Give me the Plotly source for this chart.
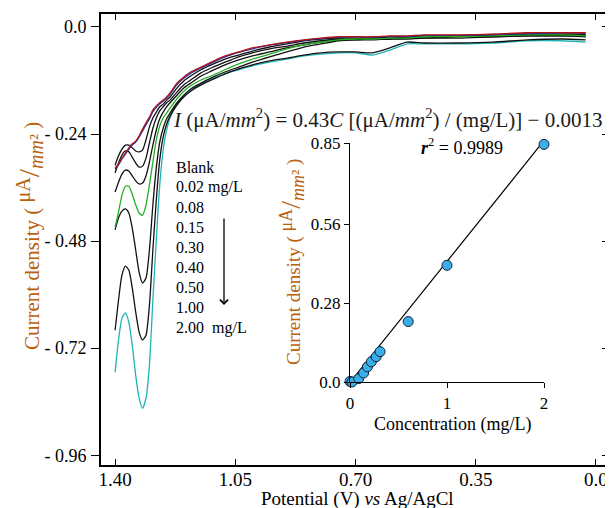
import plotly.graph_objects as go

# ---------------- data ----------------
potential = [1.40, 1.39, 1.38, 1.37, 1.36, 1.35, 1.34, 1.33, 1.32, 1.31, 1.30, 1.29, 1.28, 1.27,
             1.26, 1.25, 1.24, 1.22, 1.20, 1.18, 1.15, 1.12, 1.08, 1.04, 1.00, 0.95, 0.90, 0.85,
             0.80, 0.75, 0.70, 0.65, 0.60, 0.55, 0.50, 0.40, 0.30, 0.20, 0.10, 0.03]

blank = [-0.316, -0.307, -0.294, -0.283, -0.271, -0.262, -0.256, -0.244, -0.229, -0.215, -0.202,
         -0.186, -0.177, -0.170, -0.164, -0.157, -0.148, -0.126, -0.112, -0.101, -0.090, -0.079,
         -0.065, -0.056, -0.047, -0.040, -0.034, -0.029, -0.025, -0.022, -0.022, -0.022, -0.020,
         -0.020, -0.018, -0.018, -0.016, -0.013, -0.013, -0.013]
c002 = [-0.319, -0.309, -0.296, -0.285, -0.274, -0.265, -0.258, -0.247, -0.233, -0.219, -0.206,
        -0.190, -0.180, -0.172, -0.166, -0.159, -0.151, -0.129, -0.115, -0.104, -0.092, -0.081,
        -0.067, -0.057, -0.049, -0.041, -0.035, -0.030, -0.026, -0.023, -0.023, -0.023, -0.021,
        -0.021, -0.019, -0.019, -0.017, -0.015, -0.014, -0.014]
c008 = [-0.310, -0.289, -0.274, -0.265, -0.265, -0.271, -0.278, -0.280, -0.276, -0.253, -0.224,
        -0.204, -0.191, -0.179, -0.173, -0.164, -0.157, -0.137, -0.121, -0.110, -0.096, -0.085,
        -0.072, -0.063, -0.054, -0.045, -0.038, -0.031, -0.027, -0.025, -0.025, -0.025, -0.022,
        -0.022, -0.020, -0.020, -0.018, -0.016, -0.016, -0.016]
c015 = [-0.327, -0.305, -0.287, -0.278, -0.280, -0.292, -0.305, -0.314, -0.312, -0.294, -0.260,
        -0.227, -0.204, -0.188, -0.179, -0.170, -0.164, -0.146, -0.130, -0.119, -0.103, -0.092,
        -0.079, -0.067, -0.058, -0.049, -0.043, -0.036, -0.031, -0.027, -0.027, -0.025, -0.025,
        -0.022, -0.022, -0.020, -0.020, -0.018, -0.018, -0.018]
c030 = [-0.370, -0.348, -0.330, -0.321, -0.323, -0.334, -0.345, -0.352, -0.350, -0.334, -0.303,
        -0.265, -0.231, -0.206, -0.191, -0.179, -0.170, -0.153, -0.137, -0.126, -0.110, -0.099,
        -0.085, -0.074, -0.065, -0.056, -0.047, -0.040, -0.034, -0.029, -0.029, -0.027, -0.027,
        -0.025, -0.025, -0.022, -0.022, -0.020, -0.020, -0.020]
c040 = [-0.449, -0.415, -0.377, -0.357, -0.357, -0.375, -0.399, -0.417, -0.422, -0.399, -0.354,
        -0.303, -0.253, -0.222, -0.204, -0.193, -0.182, -0.161, -0.144, -0.132, -0.119, -0.110,
        -0.096, -0.083, -0.072, -0.061, -0.049, -0.040, -0.034, -0.029, -0.027, -0.027, -0.025,
        -0.025, -0.022, -0.022, -0.020, -0.018, -0.018, -0.020]
c050 = [-0.455, -0.428, -0.413, -0.408, -0.417, -0.451, -0.500, -0.550, -0.574, -0.563, -0.500,
        -0.399, -0.316, -0.258, -0.227, -0.206, -0.193, -0.170, -0.153, -0.139, -0.126, -0.114,
        -0.101, -0.090, -0.079, -0.067, -0.056, -0.045, -0.038, -0.031, -0.029, -0.029, -0.027,
        -0.027, -0.025, -0.025, -0.022, -0.020, -0.020, -0.022]
c100 = [-0.680, -0.612, -0.556, -0.536, -0.545, -0.585, -0.639, -0.684, -0.702, -0.691, -0.624,
        -0.500, -0.388, -0.298, -0.247, -0.218, -0.200, -0.175, -0.157, -0.144, -0.130, -0.119,
        -0.105, -0.094, -0.085, -0.076, -0.070, -0.063, -0.058, -0.056, -0.056, -0.058, -0.047,
        -0.034, -0.036, -0.036, -0.034, -0.029, -0.027, -0.029]
c200 = [-0.774, -0.702, -0.653, -0.641, -0.662, -0.713, -0.781, -0.832, -0.855, -0.832, -0.758,
        -0.612, -0.478, -0.354, -0.276, -0.231, -0.204, -0.173, -0.155, -0.141, -0.128, -0.117,
        -0.105, -0.096, -0.087, -0.079, -0.072, -0.065, -0.061, -0.058, -0.058, -0.063, -0.052,
        -0.038, -0.038, -0.038, -0.036, -0.031, -0.031, -0.034]

series_names = ["2.00", "1.00", "0.50", "0.30", "0.15", "0.08", "0.40", "0.02", "Blank"]
series_values = [c200, c100, c050, c030, c015, c008, c040, c002, blank]
series_colors = ["#1fb5b8", "#111111", "#111111", "#111111", "#111111", "#111111",
                 "#22b022", "#1c2fa8", "#b01515"]

legend_labels = ["Blank", "0.02 mg/L", "0.08", "0.15", "0.30", "0.40", "0.50", "1.00", "2.00  mg/L"]

x_ticks = [1.40, 1.05, 0.70, 0.35, 0.0]
x_ticktext = ["1.40", "1.05", "0.70", "0.35", "0.0"]
y_ticks = [0.0, -0.24, -0.48, -0.72, -0.96]
y_ticktext = ["0.0", "- 0.24", "- 0.48", "- 0.72", "- 0.96"]

# calibration inset
conc = [0.0, 0.02, 0.09, 0.14, 0.18, 0.22, 0.27, 0.31, 0.60, 1.00, 2.00]
current = [0.002, 0.0, 0.012, 0.032, 0.054, 0.072, 0.090, 0.108, 0.215, 0.415, 0.845]
slope = 0.43
intercept = -0.0013
inset_x_ticks = [0, 1, 2]
inset_y_ticks = [0.0, 0.28, 0.56, 0.85]
inset_y_ticktext = ["0.0", "0.28", "0.56", "0.85"]

# ---------------- layout helpers (window pixel coords) ----------------
OFF = 8                      # page body margin
W, H = 605, 500              # figure size so that it fits the 613x508 window
PL, PR, PT, PB = 101, 608, 14, 465   # plot frame in window pixels
L, T = PL - OFF, PT - OFF
R = W - (PR - OFF)
B = H - (PB - OFF)
PW, PH = PR - PL, PB - PT


def px(x):
    return (x - PL) / PW


def py(y):
    return (PB - y) / PH


FONT = "Liberation Serif, Times New Roman, serif"
ORANGE = "#b8600c"

fig = go.Figure()

for name, vals, col in zip(series_names, series_values, series_colors):
    fig.add_trace(go.Scatter(x=potential, y=vals, mode="lines", name=name,
                             line=dict(color=col, width=1.3, shape="spline", smoothing=0.6),
                             showlegend=False, xaxis="x", yaxis="y"))

# inset fit line and points
xfit = [min(conc), max(conc)]
yfit = [slope * v + intercept for v in xfit]
fig.add_trace(go.Scatter(x=xfit, y=yfit, mode="lines", line=dict(color="black", width=1.2),
                         showlegend=False, xaxis="x2", yaxis="y2", cliponaxis=False))
fig.add_trace(go.Scatter(x=conc, y=current, mode="markers",
                         marker=dict(size=10, color="#3aaee8", line=dict(color="#123", width=1)),
                         showlegend=False, xaxis="x2", yaxis="y2", cliponaxis=False))
# dummy trace so the right-side tick axis is drawn
fig.add_trace(go.Scatter(x=[None], y=[None], xaxis="x", yaxis="y3", showlegend=False))

fig.update_layout(
    width=W, height=H,
    margin=dict(l=L, r=R, t=T, b=B, autoexpand=False),
    paper_bgcolor="white", plot_bgcolor="white",
    font=dict(family=FONT, size=19, color="black"),
    xaxis=dict(range=[1.441, -0.035], tickvals=x_ticks, ticktext=x_ticktext,
               ticks="inside", ticklen=6, tickwidth=1.3, tickcolor="black",
               showline=True, linecolor="black", linewidth=1.6, mirror="ticks",
               showgrid=False, zeroline=False, tickfont=dict(size=19),
               ticklabelstandoff=-4),
    yaxis=dict(range=[-0.982, 0.029], tickvals=y_ticks, ticktext=y_ticktext,
               ticks="outside", ticklen=8, tickwidth=1.3, tickcolor="black",
               showline=True, linecolor="black", linewidth=1.6, mirror=True,
               showgrid=False, zeroline=False, tickfont=dict(size=18),
               ticklabelstandoff=1),
    yaxis3=dict(range=[-0.982, 0.029], tickvals=y_ticks, overlaying="y", side="right",
                anchor="x", ticks="inside", ticklen=6, tickwidth=1.3, tickcolor="black",
                showticklabels=False, showgrid=False, zeroline=False, showline=False),
    xaxis2=dict(domain=[px(350), px(544)], range=[0, 2], anchor="y2",
                tickvals=inset_x_ticks, ticks="outside", ticklen=5, tickcolor="black",
                showline=True, linecolor="black", linewidth=1.2, showgrid=False,
                zeroline=False, tickfont=dict(size=17)),
    yaxis2=dict(domain=[py(382), py(143)], range=[0, 0.85], anchor="x2",
                tickvals=inset_y_ticks, ticktext=inset_y_ticktext,
                ticks="outside", ticklen=5, tickcolor="black",
                showline=True, linecolor="black", linewidth=1.2, showgrid=False,
                zeroline=False, tickfont=dict(size=17)),
)


def ytitle(base, frac):
    return (f"Current density ( <sup><span style='font-size:{frac}px'>μA</span></sup>"
            f"<span style='font-size:{base + 9}px'>/</span>"
            f"<sub><span style='font-size:{frac}px'><i>mm</i>²</span></sub> )")


def note(text, x, y, size, color="black", xanchor="center", angle=0):
    return dict(text=text, x=px(x), y=py(y), xref="paper", yref="paper",
                xanchor=xanchor, yanchor="middle", textangle=angle, showarrow=False,
                font=dict(size=size, color=color))


ann = [
    note(ytitle(21, 20), 30, 236, 21, ORANGE, angle=-90),
    note("Potential (V) <i>vs</i> Ag/AgCl", 357, 499, 19),
    note("<i>I</i> (μA/<i>mm</i><sup>2</sup>) = 0.43<i>C</i> [(μA/<i>mm</i><sup>2</sup>) / (mg/L)] − 0.0013",
         171, 119, 21, "#1a1a1a", xanchor="left"),
    note("<b><i>r</i></b><sup>2</sup> = 0.9989", 462, 146, 18),
    note(ytitle(19, 18), 292, 262, 19, ORANGE, angle=-90),
    note("Concentration (mg/L)", 452, 424, 18),
]
for i, lab in enumerate(legend_labels):
    ann.append(note(lab, 174, 167 + 20.1 * i, 16, xanchor="left"))
ann.append(dict(text="", x=px(224), y=py(305), xref="paper", yref="paper",
                ax=0, ay=-88, axref="pixel", ayref="pixel", showarrow=True,
                arrowhead=4, arrowsize=1.2, arrowwidth=1.3, arrowcolor="black"))
fig.update_layout(annotations=ann)

fig.write_html("out.html")
